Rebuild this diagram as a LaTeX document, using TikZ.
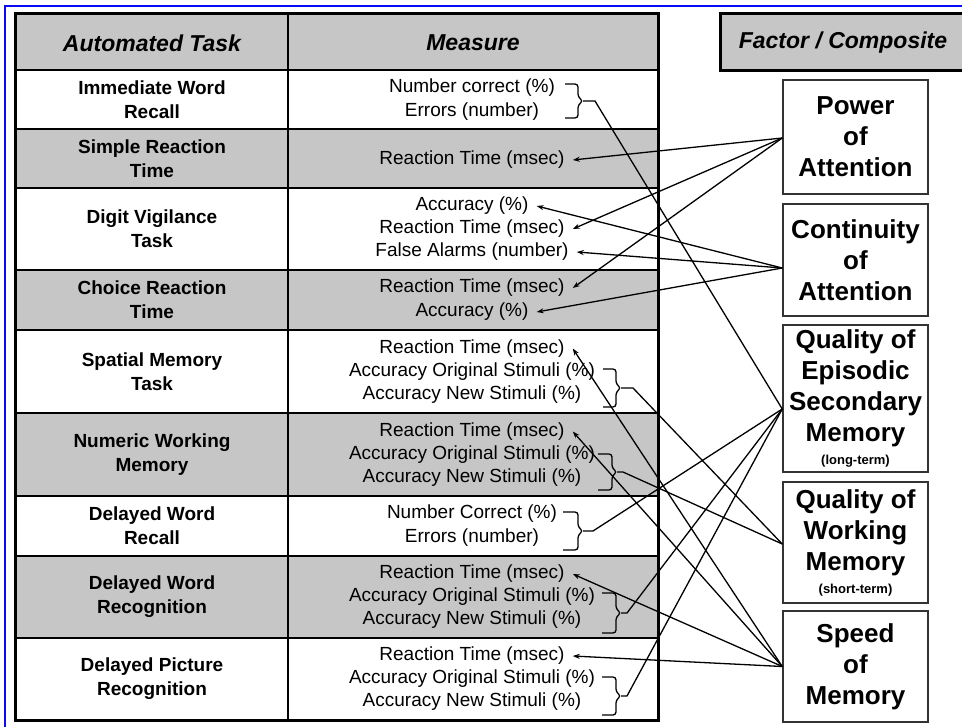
\documentclass[tikz,border=0pt]{standalone}
\usepackage{fontspec}
\setmainfont{Liberation Sans}
\usetikzlibrary{arrows.meta}
\definecolor{rowgray}{RGB}{198,198,198}
\definecolor{frameblue}{RGB}{10,10,245}
\newcommand\mybrace[6]{%
  \draw[brc] (#1,#3) -- (#2,#3) -- (#2,{(#3+#4)/2-4}) -- (#5,{(#3+#4)/2}) -- (#2,{(#3+#4)/2+4}) -- (#2,#4) -- (#1,#4);
  \coordinate (#6) at (#5,{(#3+#4)/2});}
\begin{document}
\begin{tikzpicture}[x=1pt,y=-1pt,
  hdr/.style={font=\fontsize{23}{27}\selectfont\bfseries\itshape},
  task/.style={align=center,font=\fontsize{19}{24}\selectfont\bfseries},
  meas/.style={font=\fontsize{19}{23}\selectfont,inner xsep=8pt,inner ysep=0pt},
  factor/.style={draw=black!80,line width=1.5pt,fill=white,minimum width=145pt,align=center,font=\fontsize{26}{31}\selectfont\bfseries,inner sep=0pt},
  conn/.style={line width=1.3pt},
  arr/.style={conn,-{Stealth[length=7pt,width=5pt]}},
  brc/.style={line width=1.3pt,rounded corners=3pt}
]
\useasboundingbox (0,0) rectangle (962,727);
\clip (0,0) rectangle (962,727);
\fill[white] (0,0) rectangle (962,727);
% blue frame
\draw[frameblue,line width=2.5pt] (5,740) -- (5,6) -- (975,6);
% table
\fill[rowgray] (15,14) rectangle (658,70);
\foreach \a/\b in {129/188,270/330,413/496,556/638} \fill[rowgray] (15,\a) rectangle (658,\b);
\foreach \y in {129,188,270,330,413,496,556,638} \draw[line width=2pt] (15,\y) -- (658,\y);
\draw[line width=2.6pt] (15,70) -- (658,70);
\draw[line width=2pt] (288,14) -- (288,720);
\draw[line width=3pt] (15,14) rectangle (658,720);
\node[hdr] (h1) at (152,43) {Automated Task};
\node[hdr] (h2) at (473,43) {Measure};
% factor header
\fill[rowgray] (720,14) rectangle (985,71);
\draw[line width=3pt] (720,14) rectangle (985,71);
\node[hdr] (h3) at (843,43) {Factor / Composite};
% tasks
\node[task] (t1) at (152,99.5) {Immediate Word\\Recall};
\node[task] (t2) at (152,158.5) {Simple Reaction\\Time};
\node[task] (t3) at (152,229) {Digit Vigilance\\Task};
\node[task] (t4) at (152,300) {Choice Reaction\\Time};
\node[task] (t5) at (152,371.5) {Spatial Memory\\Task};
\node[task] (t6) at (152,454.5) {Numeric Working\\Memory};
\node[task] (t7) at (152,526) {Delayed Word\\Recall};
\node[task] (t8) at (152,597) {Delayed Word\\Recognition};
\node[task] (t9) at (152,679) {Delayed Picture\\Recognition};
% measures
\node[meas] (m1a) at (472,87.5) {Number correct (\%)};
\node[meas] (m1b) at (472,111.5) {Errors (number)};
\node[meas] (m2) at (472,160) {Reaction Time (msec)};
\node[meas] (m3a) at (472,206) {Accuracy (\%)};
\node[meas] (m3b) at (472,229) {Reaction Time (msec)};
\node[meas] (m3c) at (472,252) {False Alarms (number)};
\node[meas] (m4a) at (472,288) {Reaction Time (msec)};
\node[meas] (m4b) at (472,312) {Accuracy (\%)};
\node[meas] (m5a) at (472,348.5) {Reaction Time (msec)};
\node[meas] (m5b) at (472,371.5) {Accuracy Original Stimuli (\%)};
\node[meas] (m5c) at (472,394.5) {Accuracy New Stimuli (\%)};
\node[meas] (m6a) at (472,431.5) {Reaction Time (msec)};
\node[meas] (m6b) at (472,454.5) {Accuracy Original Stimuli (\%)};
\node[meas] (m6c) at (472,477.5) {Accuracy New Stimuli (\%)};
\node[meas] (m7a) at (472,514) {Number Correct (\%)};
\node[meas] (m7b) at (472,538) {Errors (number)};
\node[meas] (m8a) at (472,574) {Reaction Time (msec)};
\node[meas] (m8b) at (472,597) {Accuracy Original Stimuli (\%)};
\node[meas] (m8c) at (472,620) {Accuracy New Stimuli (\%)};
\node[meas] (m9a) at (472,656) {Reaction Time (msec)};
\node[meas] (m9b) at (472,679) {Accuracy Original Stimuli (\%)};
\node[meas] (m9c) at (472,702) {Accuracy New Stimuli (\%)};
% braces
\mybrace{565}{578}{84}{118}{583}{b1}
\mybrace{603}{616}{369}{407}{621}{b5}
\mybrace{598}{612}{454}{490}{617}{b6}
\mybrace{563}{578}{512}{550}{583}{b7}
\mybrace{602}{616}{593}{633}{621}{b8}
\mybrace{602}{616}{677}{715}{621}{b9}
% factors
\node[factor,minimum height=114pt] (pa) at (855.5,137) {Power\\of\\Attention};
\node[factor,minimum height=112pt] (ca) at (855.5,260) {Continuity\\of\\Attention};
\node[factor,minimum height=147pt] (em) at (855.5,398.5) {Quality of\\Episodic\\Secondary\\Memory\\[-8pt]{\fontsize{13}{15}\selectfont(long-term)}};
\node[factor,minimum height=121pt] (wm) at (855.5,542.5) {Quality of\\Working\\Memory\\[-8pt]{\fontsize{13}{15}\selectfont(short-term)}};
\node[factor,minimum height=111pt] (sm) at (855.5,666.5) {Speed\\of\\Memory};
\coordinate (cP) at ([yshift=-1pt]pa.west);
\coordinate (cC) at ([yshift=-8pt]ca.west);
\coordinate (cE) at ([yshift=-10.5pt]em.west);
\coordinate (cW) at ([yshift=-1.5pt]wm.west);
\coordinate (cS) at (sm.west);
% connectors
\draw[arr] (cP) -- (m2.east);
\draw[arr] (cP) -- (m3b.east);
\draw[arr] (cP) -- (m4a.east);
\draw[arr] (cC) -- (m3a.east);
\draw[arr] (cC) -- (m3c.east);
\draw[arr] (cC) -- (m4b.east);
\draw[conn] (b1) -- ++(12,0) -- (cE);
\draw[conn] (b7) -- ++(10,0) -- (cE);
\draw[conn] (b8) -- ++(6,0) -- (cE);
\draw[conn] (b9) -- ++(6,0) -- (cE);
\draw[conn] (b5) -- ++(12,0) -- (cW);
\draw[conn] (b6) -- ++(6,0) -- (cW);
\draw[arr] (cS) -- (m5a.east);
\draw[arr] (cS) -- (m6a.east);
\draw[arr] (cS) -- (m8a.east);
\draw[arr] (cS) -- (m9a.east);
\end{tikzpicture}
\end{document}
